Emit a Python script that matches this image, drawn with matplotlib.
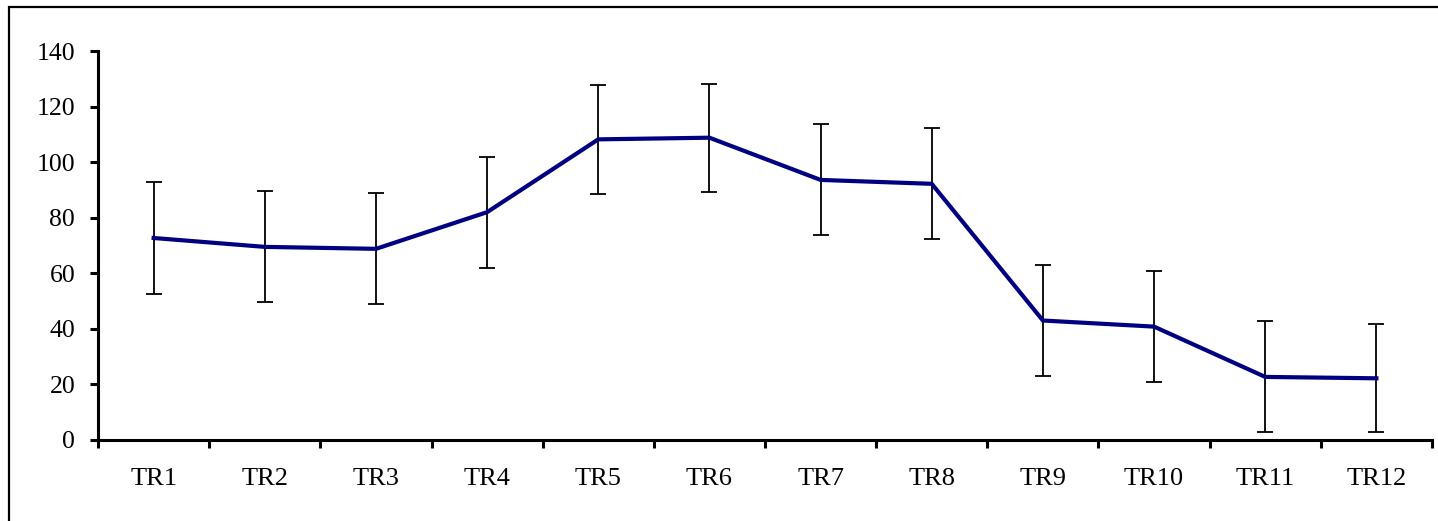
import matplotlib
matplotlib.use("Agg")
import matplotlib.pyplot as plt
import numpy as np

plt.rcParams.update({
    "font.family": ["Liberation Serif", "DejaVu Serif"],
    "font.size": 19,
})

categories = ["TR1", "TR2", "TR3", "TR4", "TR5", "TR6",
              "TR7", "TR8", "TR9", "TR10", "TR11", "TR12"]
means = [72.7, 69.5, 68.8, 82.0, 108.2, 108.8, 93.6, 92.2, 43.0, 40.8, 22.7, 22.2]
errors = [20, 20, 20, 20, 19.5, 19.5, 20, 20, 20, 20, 20, 19.5]

fig = plt.figure(figsize=(14.38, 5.21), dpi=100)
ax = fig.add_axes([0.0682, 0.1555, 0.9276, 0.7466])

# outer chart frame (Excel style), right/bottom edges fall outside the canvas
fig.patches.append(plt.Rectangle((9 / 1438, -0.05), 1.2, (521 - 7) / 521 + 0.05,
                                 transform=fig.transFigure, fill=False,
                                 edgecolor="black", linewidth=1.6))

x = np.arange(len(categories))
ax.errorbar(x, means, yerr=errors, fmt="none", ecolor="black",
            elinewidth=1.3, capsize=5.7, capthick=1.3, zorder=2)
ax.plot(x, means, color="#000080", linewidth=3, zorder=3)

ax.set_xlim(-0.5, len(categories) - 0.5)
ax.set_ylim(0, 140)
ax.set_yticks(range(0, 141, 20))
ax.set_xticks(x)
ax.set_xticklabels(categories)
ax.set_xticks(np.arange(-0.5, len(categories), 1), minor=True)
ax.tick_params(axis="x", which="major", length=0, pad=20)
ax.tick_params(axis="x", which="minor", length=6, width=2.2, direction="out")
ax.tick_params(axis="y", length=6, width=2.2, direction="out", pad=10.5,
               labelsize=18.5)

for side in ("top", "right"):
    ax.spines[side].set_visible(False)
for side in ("left", "bottom"):
    ax.spines[side].set_linewidth(2.2)

fig.savefig("out.png", dpi=100)
